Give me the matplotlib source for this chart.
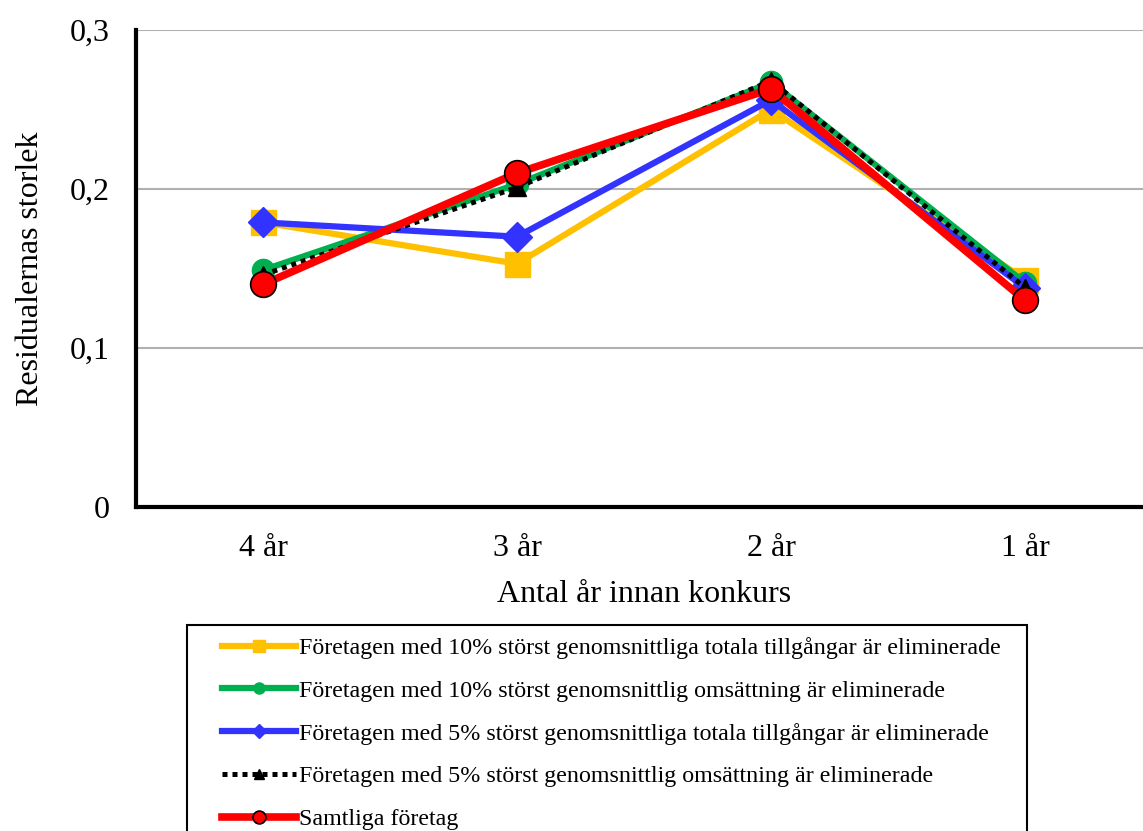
import matplotlib
matplotlib.use('Agg')
import matplotlib.pyplot as plt
from matplotlib.patches import Rectangle
from matplotlib.ticker import FuncFormatter

plt.rcParams['font.family'] = ['Liberation Serif', 'DejaVu Serif']

years = ['4 år', '3 år', '2 år', '1 år']

tillg_10 = [0.179, 0.153, 0.250, 0.143]
oms_10 = [0.149, 0.203, 0.267, 0.141]
tillg_5 = [0.179, 0.170, 0.256, 0.138]
oms_5 = [0.146, 0.201, 0.268, 0.138]
samtliga = [0.140, 0.210, 0.263, 0.130]

labels = [
    'Företagen med 10% störst genomsnittliga totala tillgångar är eliminerade',
    'Företagen med 10% störst genomsnittlig omsättning är eliminerade',
    'Företagen med 5% störst genomsnittliga totala tillgångar är eliminerade',
    'Företagen med 5% störst genomsnittlig omsättning är eliminerade',
    'Samtliga företag',
]

W, H = 1143, 831
fig = plt.figure(figsize=(W / 100, H / 100), dpi=100)
# axes run a bit past the right edge of the figure
ax = fig.add_axes([136 / W, 1 - 507 / H, 1016 / W, 477 / H])

x = range(len(years))
h1, = ax.plot(x, tillg_10, color='#FFC000', lw=4.5, marker='s', ms=18,
              mec='#FFC000', zorder=3)
h2, = ax.plot(x, oms_10, color='#00B050', lw=4.5, marker='o', ms=16,
              mec='#00B050', zorder=4)
h3, = ax.plot(x, tillg_5, color='#3333FF', lw=4.5, marker='D', ms=15,
              mec='#3333FF', zorder=5)
h4, = ax.plot(x, oms_5, color='black', lw=3.6, ls=(0, (1, 1)),
              dash_capstyle='butt', marker='^', ms=13, zorder=6)
h5, = ax.plot(x, samtliga, color='#FF0000', lw=5.5, marker='o', ms=18.5,
              mec='black', mew=1.2, zorder=7)

ax.set_xlim(-0.5, 3.5)
ax.set_ylim(0, 0.3)
ax.set_yticks([0, 0.1, 0.2, 0.3])
ax.yaxis.set_major_formatter(
    FuncFormatter(lambda v, _: '0' if v == 0 else f'{v:.1f}'.replace('.', ','))
)
ax.set_xticks(list(x))
ax.set_xticklabels(years)
ax.tick_params(length=0, labelsize=23)
ax.tick_params(axis='x', pad=19.5)
ax.tick_params(axis='y', pad=19)

ax.yaxis.grid(True, color='#B0B0B0', lw=1.5)
ax.set_axisbelow(True)
for side in ['top', 'right']:
    ax.spines[side].set_visible(False)
for side in ['left', 'bottom']:
    ax.spines[side].set_linewidth(3)
    ax.spines[side].set_color('black')

ax.set_ylabel('Residualernas storlek', fontsize=23, labelpad=18)
ax.set_xlabel('Antal år innan konkurs', fontsize=23, labelpad=12)

# legend box drawn separately so it can run off the bottom edge
fig.patches.append(Rectangle((187 / W, -0.02), (1027 - 187) / W, 0.02 + 1 - 625 / H,
                             transform=fig.transFigure, fill=False,
                             edgecolor='black', lw=1.5))
leg = fig.legend([h1, h2, h3, h4, h5], labels,
                 loc='upper left', bbox_to_anchor=(222 / W, 1 - 637 / H),
                 borderaxespad=0, borderpad=0,
                 fontsize=17.3, frameon=False,
                 handlelength=3.1, handletextpad=0.12, labelspacing=0.87,
                 markerscale=0.5)

fig.savefig('out.png', dpi=100)
